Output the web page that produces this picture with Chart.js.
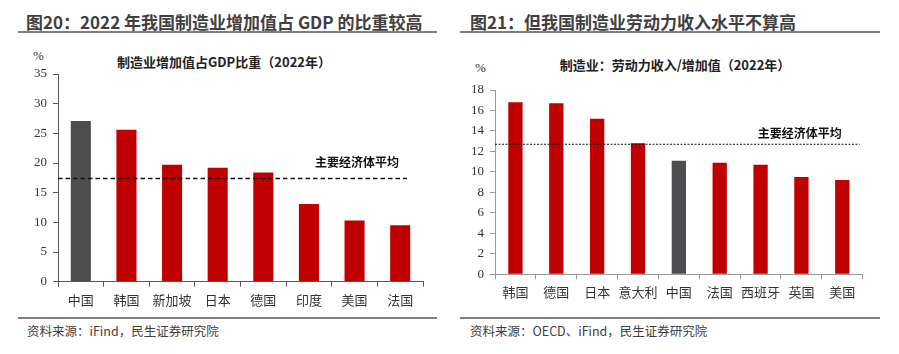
<!DOCTYPE html>
<html><head><meta charset="utf-8">
<script src="https://cdn.jsdelivr.net/npm/chart.js@4/dist/chart.umd.min.js"></script>
<style>
html,body{margin:0;padding:0;background:#fff;width:899px;height:354px;overflow:hidden;font-family:"Noto Sans CJK SC",sans-serif;}
.t{position:absolute;white-space:nowrap;}
.title{font-size:17px;font-weight:bold;color:#404040;top:9px;letter-spacing:0px;}
.rule{position:absolute;height:2px;background:#7f7f7f;}
.src{font-size:12.5px;color:#404040;top:321px;}
.sub{font-size:13px;font-weight:bold;color:#222;font-family:"Noto Sans CJK SC",serif;}
.pct{font-family:"Liberation Serif",serif;font-size:13px;color:#333;}
.box{position:absolute;}
</style></head>
<body>
<div class="t title" style="left:26px;">图20：2022 年我国制造业增加值占 GDP 的比重较高</div>
<div class="rule" style="left:18px;width:419px;top:31px;"></div>
<div class="t title" style="left:470px;">图21：但我国制造业劳动力收入水平不算高</div>
<div class="rule" style="left:460px;width:420px;top:31px;"></div>

<div class="t pct" style="left:33px;top:48px;">%</div>
<div class="t sub" style="left:224px;top:52px;transform:translateX(-50%);">制造业增加值占GDP比重（2022年）</div>
<div class="t pct" style="left:475px;top:60px;">%</div>
<div class="t sub" style="left:675px;top:55px;transform:translateX(-50%);">制造业：劳动力收入/增加值（2022年）</div>

<div class="box" style="left:0;top:40px;width:450px;height:275px;"><canvas id="c1" width="450" height="275"></canvas></div>
<div class="box" style="left:450px;top:40px;width:449px;height:275px;"><canvas id="c2" width="449" height="275"></canvas></div>

<div class="rule" style="left:18px;width:419px;top:317px;"></div>
<div class="t src" style="left:27px;">资料来源：iFind，民生证券研究院</div>
<div class="rule" style="left:460px;width:420px;top:317px;"></div>
<div class="t src" style="left:470px;">资料来源：OECD、iFind，民生证券研究院</div>

<script>
// ---- data ----
const categories1 = ["中国","韩国","新加坡","日本","德国","印度","美国","法国"];
const values1 = [27.1, 25.6, 19.7, 19.2, 18.4, 13.1, 10.3, 9.5];
const avg1 = 17.4;
const yTicks1 = [0,5,10,15,20,25,30,35];

const categories2 = ["韩国","德国","日本","意大利","中国","法国","西班牙","英国","美国"];
const values2 = [16.8, 16.7, 15.2, 12.8, 11.1, 10.9, 10.7, 9.5, 9.2];
const avg2 = 12.7;
const yTicks2 = [0,2,4,6,8,10,12,14,16,18];

const avgLabel = "主要经济体平均";
const RED = "#C00000", GREY = "#4D4D4F";

function avgPlugin(value, opts){
  return {
    id:'avg',
    afterDatasetsDraw(chart){
      const {ctx, chartArea, scales} = chart;
      const y = scales.y.getPixelForValue(value);
      ctx.save();
      ctx.strokeStyle = '#111';
      ctx.lineWidth = opts.lw;
      ctx.setLineDash(opts.dash);
      ctx.beginPath();
      ctx.moveTo(chartArea.left, y);
      ctx.lineTo(chartArea.right - opts.endInset, y);
      ctx.stroke();
      ctx.setLineDash([]);
      ctx.fillStyle = '#111';
      ctx.font = 'bold 12px "Noto Sans CJK SC"';
      ctx.textAlign = 'center';
      ctx.textBaseline = 'middle';
      ctx.fillText(avgLabel, chartArea.right - opts.labelInsetX, y - opts.labelDy);
      ctx.restore();
    }
  };
}

function makeChart(id, cats, vals, greyIdx, ticks, max, step, barPct, pad, yW, xH, axisColor, avg, avgOpts, labelPadX){
  return new Chart(document.getElementById(id), {
    type:'bar',
    data:{labels:cats, datasets:[{data:vals,
      backgroundColor: vals.map((v,i)=> i===greyIdx ? GREY : RED),
      borderWidth:0, barPercentage:barPct, categoryPercentage:1}]},
    options:{
      responsive:false, animation:false,
      layout:{padding:pad},
      plugins:{legend:{display:false}, tooltip:{enabled:false}},
      scales:{
        x:{
          grid:{display:true, offset:true, drawOnChartArea:false, drawTicks:true, tickLength:5, color:axisColor, lineWidth:1},
          border:{display:true, color:axisColor, width:1},
          ticks:{font:{family:'"Noto Sans CJK SC"', size:13}, color:'#333', padding:labelPadX, maxRotation:0, autoSkip:false},
          afterFit(s){ s.height = xH; }
        },
        y:{
          min:0, max:max,
          afterBuildTicks(s){ s.ticks = ticks.map(v=>({value:v})); },
          grid:{display:true, drawOnChartArea:false, drawTicks:true, tickLength:5, color:axisColor, lineWidth:1},
          border:{display:true, color:axisColor, width:1},
          ticks:{font:{family:'"Liberation Serif"', size:13}, color:'#333', padding:6, stepSize:step},
          afterFit(s){ s.width = yW; }
        }
      }
    },
    plugins:[avgPlugin(avg, avgOpts)]
  });
}

makeChart('c1', categories1, values1, 0, yTicks1, 35, 5, 0.44,
  {top:34, right:27, left:0, bottom:0}, 58, 33.3, '#595959', avg1,
  {lw:1.5, dash:[4.5,3], endInset:16, labelInsetX:66, labelDy:16}, 6);

makeChart('c2', categories2, values2, 4, yTicks2, 18, 2, 0.35,
  {top:50, right:36.3, left:0, bottom:0}, 45, 40.7, '#9a9a9a', avg2,
  {lw:1.2, dash:[2,1.5], endInset:3, labelInsetX:63, labelDy:11}, 5);
</script>
</body></html>
